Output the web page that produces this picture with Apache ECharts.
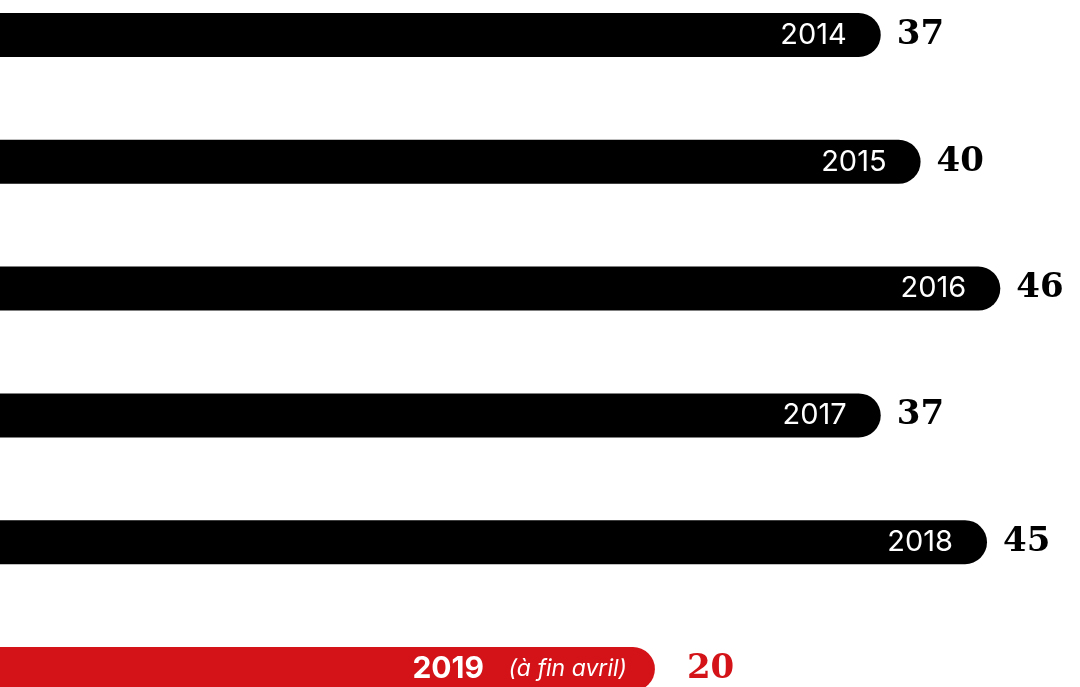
<!DOCTYPE html>
<html>
<head>
    <meta charset="utf-8"/>
    <title>Bars</title>
    <script src="https://cdn.jsdelivr.net/npm/echarts@6/dist/echarts.min.js"></script>
    <style>
        html, body { margin: 0; padding: 0; background: #fff; }
        #chart { width: 1080px; height: 687px; }
    </style>
</head>
<body>
<div id="chart"></div>
<script>
    // data
    var years = ['2014', '2015', '2016', '2017', '2018', '2019'];
    var counts = [37, 40, 46, 37, 45, 20];
    var notes = ['', '', '', '', '', '(à fin avril)'];

    var BLACK = '#000000';
    var RED = '#d31317';

    var barData = [];
    var valueData = [];
    for (var i = 0; i < years.length; i++) {
        var isLast = notes[i] !== '';
        barData.push({
            value: counts[i],
            itemStyle: { color: isLast ? RED : BLACK },
            label: { distance: isLast ? 28 : 34 }
        });
        valueData.push({
            value: counts[i],
            label: { color: isLast ? RED : BLACK, distance: isLast ? 32 : 16 }
        });
    }

    var myChart = echarts.init(document.getElementById('chart'));
    var option = {
        animation: false,
        grid: { left: 0, right: 0, top: 35, bottom: 18 },
        xAxis: {
            type: 'value',
            min: -29.3,
            max: 52,
            startValue: -29.3,
            show: false
        },
        yAxis: {
            type: 'category',
            data: years,
            inverse: true,
            boundaryGap: false,
            show: false
        },
        series: [{
            type: 'bar',
            data: barData,
            barWidth: 44,
            itemStyle: { borderRadius: [0, 22, 22, 0] },
            label: {
                show: true,
                position: 'insideRight',
                formatter: function (p) {
                    var note = notes[p.dataIndex];
                    if (note) {
                        return '{b|' + years[p.dataIndex] + '}   {i|' + note + '}';
                    }
                    return years[p.dataIndex];
                },
                color: '#fff',
                fontFamily: 'Inter',
                fontSize: 29,
                rich: {
                    b: { fontFamily: 'Inter', fontWeight: 'bold', fontSize: 30, color: '#fff' },
                    i: { fontFamily: 'Inter', fontStyle: 'italic', fontSize: 23, color: '#fff' }
                }
            }
        }, {
            type: 'bar',
            data: valueData,
            barWidth: 44,
            barGap: '-100%',
            itemStyle: { color: 'rgba(0,0,0,0)' },
            label: {
                show: true,
                position: 'right',
                fontFamily: 'DejaVu Serif',
                fontWeight: 'bold',
                fontSize: 34
            }
        }]
    };
    myChart.setOption(option);

    window.onresize = function () {
        myChart.resize();
    };
</script>
</body>
</html>
